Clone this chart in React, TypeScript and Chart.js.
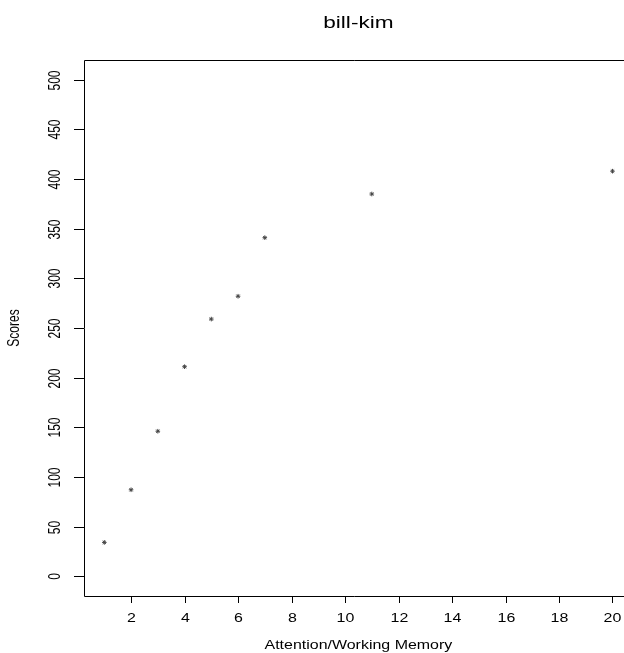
import React, { useEffect, useRef } from "react";
import { Chart, registerables } from "chart.js";

Chart.register(...registerables);

const chartTitle = "bill-kim";
const xAxisTitle = "Attention/Working Memory";
const yAxisTitle = "Scores";
const xValues = [1, 2, 3, 4, 5, 6, 7, 11, 20];
const scores = [34, 87, 146, 211, 259, 282, 341, 385, 408];
const xTicks = [2, 4, 6, 8, 10, 12, 14, 16, 18, 20];
const yTicks = [0, 50, 100, 150, 200, 250, 300, 350, 400, 450, 500];

const FONT = '"Liberation Sans", Arial, Helvetica, sans-serif';
const STRETCH = 1.33;

const rAxesPlugin = {
  id: "rAxes",
  afterDraw(chart: any) {
    const { ctx, chartArea } = chart;
    const xs = chart.scales.x;
    const ys = chart.scales.y;
    const { left, top, bottom } = chartArea;
    const right = chart.width;
    ctx.save();
    ctx.strokeStyle = "#000";
    ctx.fillStyle = "#000";
    ctx.lineWidth = 1;
    // box (right side lies outside canvas)
    ctx.beginPath();
    ctx.moveTo(right + 2, top + 0.5);
    ctx.lineTo(left + 0.5, top + 0.5);
    ctx.lineTo(left + 0.5, bottom + 0.5);
    ctx.lineTo(right + 2, bottom + 0.5);
    ctx.stroke();

    // y ticks
    ctx.font = `12px ${FONT}`;
    ctx.textAlign = "center";
    ctx.textBaseline = "middle";
    yTicks.forEach((v) => {
      const py = Math.round(ys.getPixelForValue(v)) + 0.5;
      ctx.beginPath();
      ctx.moveTo(left - 10, py);
      ctx.lineTo(left, py);
      ctx.stroke();
      ctx.save();
      ctx.translate(55.5, py);
      ctx.rotate(-Math.PI / 2);
      ctx.scale(1, STRETCH);
      ctx.fillText(String(v), 0, 0);
      ctx.restore();
    });

    // x ticks
    xTicks.forEach((v) => {
      const px = Math.round(xs.getPixelForValue(v)) + 0.5;
      ctx.beginPath();
      ctx.moveTo(px, bottom);
      ctx.lineTo(px, bottom + 7);
      ctx.stroke();
      ctx.save();
      ctx.translate(px, 619);
      ctx.scale(STRETCH, 1);
      ctx.fillText(String(v), 0, 0);
      ctx.restore();
    });

    const cx = xs.getPixelForValue(10.5);
    // x title
    ctx.save();
    ctx.translate(cx, 646);
    ctx.scale(STRETCH, 1);
    ctx.fillText(xAxisTitle, 0, 0);
    ctx.restore();

    // y title
    ctx.save();
    ctx.translate(14.5, (top + bottom) / 2);
    ctx.rotate(-Math.PI / 2);
    ctx.scale(1, STRETCH);
    ctx.fillText(yAxisTitle, 0, 0);
    ctx.restore();

    // main title
    ctx.save();
    ctx.font = `17px ${FONT}`;
    ctx.textBaseline = "alphabetic";
    ctx.translate(cx, 27.7);
    ctx.scale(STRETCH, 1);
    ctx.fillText(chartTitle, 0, 0);
    ctx.restore();

    ctx.restore();
  },
};

export default function App() {
  const canvasRef = useRef<HTMLCanvasElement | null>(null);

  useEffect(() => {
    if (!canvasRef.current) return;
    const chart = new Chart(canvasRef.current, {
      type: "scatter",
      data: {
        datasets: [
          {
            label: "scores",
            data: xValues.map((x, i) => ({ x, y: scores[i] })),
            pointStyle: "star",
            radius: 2.3,
            borderWidth: 1,
            borderColor: "#444",
            backgroundColor: "#444",
          },
        ],
      },
      options: {
        animation: false,
        responsive: false,
        devicePixelRatio: 1,
        layout: { autoPadding: false, padding: { left: 84, top: 60, right: 0, bottom: 57 } },
        plugins: {
          legend: { display: false },
          title: { display: false },
          tooltip: { enabled: false },
        },
        scales: {
          x: { type: "linear", display: false, min: 0.24, max: 20.43 },
          y: { type: "linear", display: false, min: -20, max: 520 },
        },
      },
      plugins: [rAxesPlugin],
    });
    return () => chart.destroy();
  }, []);

  return (
    <div style={{ position: "absolute", left: 0, top: 0, width: 624, height: 653, background: "#fff" }}>
      <canvas ref={canvasRef} width={624} height={653} />
    </div>
  );
}
